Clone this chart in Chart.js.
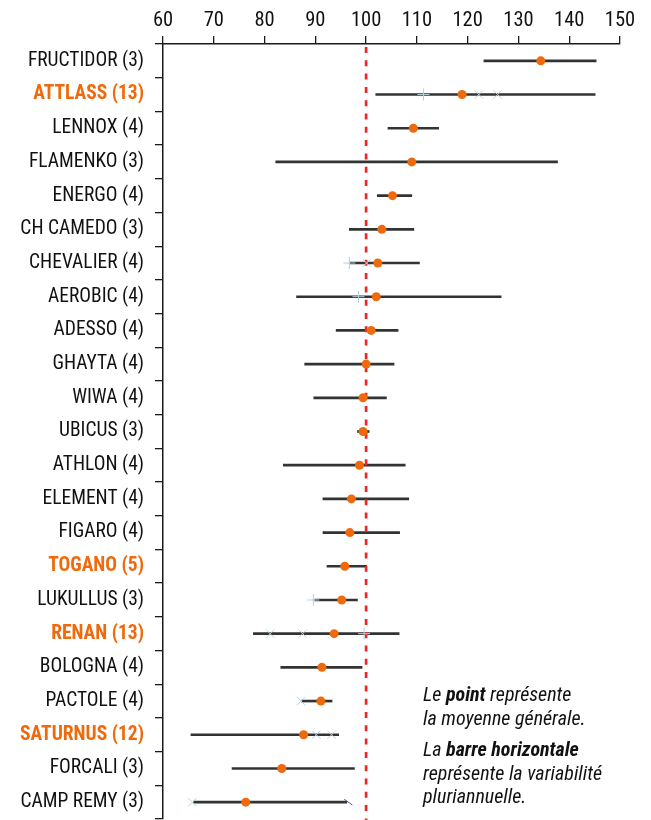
<!DOCTYPE html>
<html>
<head>
<meta charset="utf-8">
<script src="https://cdn.jsdelivr.net/npm/chart.js@4/dist/chart.umd.min.js"></script>
<style>
  html, body { margin: 0; padding: 0; background: #ffffff; }
  #wrap { position: relative; width: 651px; height: 820px; overflow: hidden; }
  #c { position: absolute; left: 0; top: 0; }
  .note { position: absolute; left: 423px; font-family: "Roboto Condensed", Roboto, sans-serif; font-stretch: condensed;
          font-style: italic; font-size: 20px; line-height: 23.5px; color: #111; white-space: nowrap; }
  .note b { font-weight: bold; }
</style>
</head>
<body>
<div id="wrap">
  <canvas id="c" width="651" height="820"></canvas>
  <div class="note" style="top:683px;">Le <b>point</b> représente<br>la moyenne générale.</div>
  <div class="note" style="top:738px;">La <b>barre horizontale</b><br>représente la variabilité<br>pluriannuelle.</div>
</div>
<script>
// ---------------- DATA ----------------
const varieties = ["FRUCTIDOR", "ATTLASS", "LENNOX", "FLAMENKO", "ENERGO", "CH CAMEDO", "CHEVALIER",
  "AEROBIC", "ADESSO", "GHAYTA", "WIWA", "UBICUS", "ATHLON", "ELEMENT", "FIGARO", "TOGANO",
  "LUKULLUS", "RENAN", "BOLOGNA", "PACTOLE", "SATURNUS", "FORCALI", "CAMP REMY"];
const trialCounts = [3, 13, 4, 3, 4, 3, 4, 4, 4, 4, 4, 3, 4, 4, 4, 5, 3, 13, 4, 4, 12, 3, 3];
const highlighted = ["ATTLASS", "TOGANO", "RENAN", "SATURNUS"];
const minValues  = [123.2, 101.9, 104.3, 82.2, 102.2, 96.7, 96.8, 86.3, 94.1, 87.9, 89.7, 98.3,
  83.7, 91.5, 91.5, 92.3, 89.9, 77.8, 83.2, 87.3, 65.5, 73.6, 66.0];
const maxValues  = [145.3, 145.1, 114.3, 137.7, 109.0, 109.4, 110.5, 126.6, 106.3, 105.5, 104.0, 100.6,
  107.7, 108.4, 106.6, 100.1, 98.3, 106.5, 99.2, 93.3, 94.6, 97.7, 96.2];
const meanValues = [134.4, 118.9, 109.3, 109.0, 105.2, 103.1, 102.3, 102.0, 101.0, 100.0, 99.4, 99.4,
  98.7, 97.1, 96.8, 95.8, 95.2, 93.7, 91.3, 91.1, 87.7, 83.4, 76.3];
const plusMarks = [["ATTLASS", 111.3], ["CHEVALIER", 96.7], ["AEROBIC", 98.5], ["LUKULLUS", 89.6], ["RENAN", 99.6]];
const crossMarks = [["ATTLASS", 122.2], ["ATTLASS", 125.9], ["CHEVALIER", 100.1], ["RENAN", 81.1], ["RENAN", 87.5],
  ["PACTOLE", 87.2], ["SATURNUS", 90.2], ["SATURNUS", 93.2], ["CAMP REMY", 65.8]];
const slashMarks = [["CAMP REMY", 96.5]];
const referenceValue = 100;
const xTicks = [60, 70, 80, 90, 100, 110, 120, 130, 140, 150];

// ---------------- BUILD ----------------
const labels = varieties.map((v, i) => v + " (" + trialCounts[i] + ")");
const labelOf = name => labels[varieties.indexOf(name)];
const isHi = i => highlighted.includes(varieties[i]);
const FONT = '"Roboto Condensed", Roboto, sans-serif';
const ORANGE = '#ee6a0c';

const refLine = {
  id: 'refLine',
  afterDatasetDraw(chart, args) {
    if (args.index !== 0) return;
    const x = chart.scales.x.getPixelForValue(referenceValue);
    const ctx = chart.ctx;
    ctx.save();
    ctx.strokeStyle = '#e8282a';
    ctx.lineWidth = 2.7;
    ctx.setLineDash([6, 7.3]);
    ctx.beginPath();
    ctx.moveTo(x, chart.chartArea.top + 3);
    ctx.lineTo(x, chart.height);
    ctx.stroke();
    ctx.restore();
  }
};

new Chart(document.getElementById('c'), {
  type: 'bar',
  data: {
    labels: labels,
    datasets: [
      {
        label: 'variabilité',
        data: minValues.map((m, i) => [m, maxValues[i]]),
        backgroundColor: '#333333',
        borderWidth: 0,
        barThickness: 2,
        order: 3
      },
      {
        type: 'line', indexAxis: 'y', showLine: false,
        data: plusMarks.map(p => ({ x: p[1], y: labelOf(p[0]) })),
        pointStyle: 'cross', pointRadius: 6, pointBorderWidth: 1,
        pointBorderColor: '#b7cedd', pointBackgroundColor: '#b7cedd',
        order: 2
      },
      {
        type: 'line', indexAxis: 'y', showLine: false,
        data: crossMarks.map(p => ({ x: p[1], y: labelOf(p[0]) })),
        pointStyle: 'crossRot', pointRadius: 6, pointBorderWidth: 1,
        pointBorderColor: '#b7d5dd', pointBackgroundColor: '#b7d5dd',
        order: 2
      },
      {
        type: 'line', indexAxis: 'y', showLine: false,
        data: slashMarks.map(p => ({ x: p[1], y: labelOf(p[0]) })),
        pointStyle: 'line', pointRotation: 35, pointRadius: 5, pointBorderWidth: 1,
        pointBorderColor: '#6b4f96', pointBackgroundColor: '#6b4f96',
        order: 2
      },
      {
        type: 'line', indexAxis: 'y', showLine: false,
        data: meanValues,
        pointStyle: 'circle', pointRadius: 4.5, pointBorderWidth: 0,
        pointBackgroundColor: ORANGE, pointBorderColor: ORANGE,
        order: 1
      }
    ]
  },
  options: {
    indexAxis: 'y',
    responsive: false,
    animation: false,
    events: [],
    layout: { autoPadding: false, padding: { left: 0, right: 31, top: 0, bottom: 1 } },
    plugins: { legend: { display: false }, tooltip: { enabled: false } },
    scales: {
      x: {
        position: 'top',
        min: 60, max: 150,
        afterBuildTicks: s => { s.ticks = xTicks.map(v => ({ value: v })); },
        afterFit: s => { s.height = 44; },
        grid: { drawOnChartArea: false, drawTicks: true, tickLength: 8, color: '#1a1a1a', lineWidth: 1.3 },
        border: { display: true, color: '#1a1a1a', width: 1.5 },
        ticks: { color: '#111', padding: 3, font: { family: FONT, size: 20.5 } }
      },
      y: {
        afterFit: s => { s.width = 163; s.paddingTop = 0; s.paddingBottom = 0; },
        grid: { drawOnChartArea: false, drawTicks: true, tickLength: 8, color: '#1a1a1a', lineWidth: 1.3, offset: true },
        border: { display: true, color: '#1a1a1a', width: 1.5 },
        ticks: {
          padding: 11,
          color: c => isHi(c.index) ? ORANGE : '#111',
          font: c => ({ family: FONT, size: 19.5, weight: isHi(c.index) ? 'bold' : 'normal' })
        }
      }
    }
  },
  plugins: [refLine]
});
</script>
</body>
</html>
